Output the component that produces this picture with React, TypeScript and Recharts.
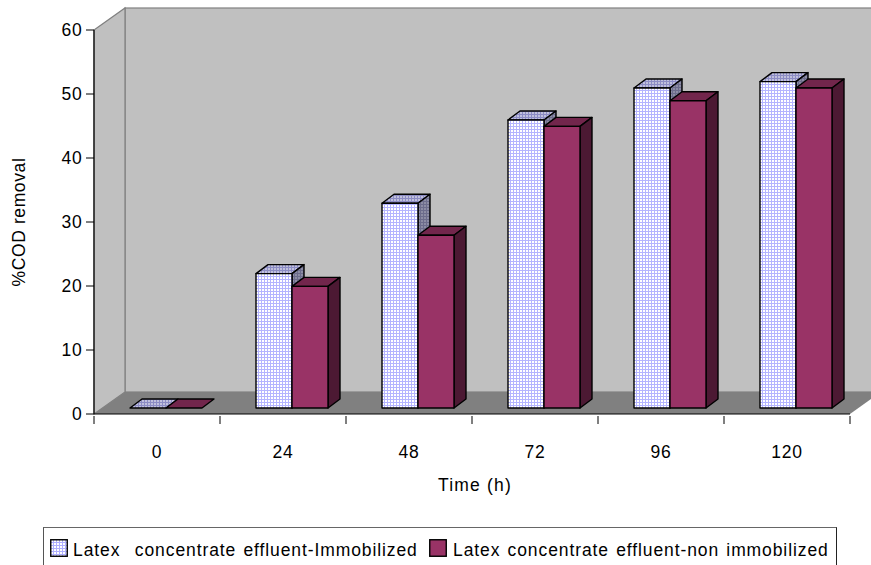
import React from "react";
import { BarChart, Bar, XAxis, YAxis, ReferenceArea, Legend } from "recharts";

const hours = ["0", "24", "48", "72", "96", "120"];
const immobilized = [0, 21, 32, 45, 50, 51];
const nonImmobilized = [0, 19, 27, 44, 48, 50];
const yTicks = [0, 10, 20, 30, 40, 50, 60];
const seriesNames = [
  "Latex  concentrate effluent-Immobilized",
  "Latex concentrate effluent-non immobilized",
];

const rows = hours.map((h, i) => ({
  hour: h,
  immobilized: immobilized[i],
  nonImmobilized: nonImmobilized[i],
}));

const FONT = "'Liberation Sans', Arial, sans-serif";
const WALL_DX = 31;
const WALL_DY = 22;
const BAR_DX = 12;
const BAR_DY = 9;
const BAR_SHIFT_X = 9;
const BAR_SHIFT_Y = -6;
const BAND = 126;

function Gridded({ id, bg, line }: { id: string; bg: string; line: string }) {
  return (
    <pattern id={id} width="3" height="3" patternUnits="userSpaceOnUse">
      <rect width="3" height="3" fill={bg} />
      <path d="M0 0.5H3M0.5 0V3" stroke={line} strokeWidth="1" />
    </pattern>
  );
}

// Room behind the bars: side wall, back wall and floor in oblique projection.
function Room({ x, y, width, height }: any) {
  const b = y + height;
  const r = x + width;
  return (
    <g>
      <rect x={x + WALL_DX} y={y - WALL_DY} width={width} height={height} fill="#c0c0c0" stroke="#808080" strokeWidth={1.2} />
      <polygon points={`${x},${y} ${x + WALL_DX},${y - WALL_DY} ${x + WALL_DX},${b - WALL_DY} ${x},${b}`} fill="#c0c0c0" stroke="#808080" strokeWidth={1.2} />
      <polygon points={`${x},${b} ${x + WALL_DX},${b - WALL_DY} ${r + WALL_DX},${b - WALL_DY} ${r},${b}`} fill="#808080" />
    </g>
  );
}

function Box3D({ x, y, width, height, front, top, side }: any) {
  const l = x + BAR_SHIFT_X;
  const t = y + BAR_SHIFT_Y;
  const r = l + width;
  const b = t + height;
  const edge = { stroke: "#000", strokeWidth: 1.4, strokeLinejoin: "round" as const };
  return (
    <g>
      <polygon points={`${l},${t} ${l + BAR_DX},${t - BAR_DY} ${r + BAR_DX},${t - BAR_DY} ${r},${t}`} fill={top} {...edge} />
      {height > 0 && <polygon points={`${r},${t} ${r + BAR_DX},${t - BAR_DY} ${r + BAR_DX},${b - BAR_DY} ${r},${b}`} fill={side} {...edge} />}
      {height > 0 && <rect x={l} y={t} width={width} height={height} fill={front} {...edge} />}
    </g>
  );
}

const ImmobilizedBar = (p: any) => <Box3D {...p} front="url(#gridFront)" top="url(#gridTop)" side="url(#gridSide)" />;
const PlainBar = (p: any) => <Box3D {...p} front="#993366" top="#72264c" side="#4c1933" />;

// Tick marks sit on the category boundaries, labels in the middle of each band.
function HourTick({ x, y, payload, index }: any) {
  const last = index === hours.length - 1;
  return (
    <g>
      <line x1={x - BAND / 2} x2={x - BAND / 2} y1={y - 8} y2={y} stroke="#000" />
      {last && <line x1={x + BAND / 2} x2={x + BAND / 2} y1={y - 8} y2={y} stroke="#000" />}
      <text x={x} y={y + 34} textAnchor="middle" fontFamily={FONT} fontSize={17.5} letterSpacing={0.8} fill="#000">
        {payload.value}
      </text>
    </g>
  );
}

function Swatch({ fill, left }: { fill: string; left: number }) {
  return (
    <svg width={18} height={18} style={{ position: "absolute", left, top: 11 }}>
      <defs>
        <Gridded id="gridSwatch" bg="#fff" line="#b0b0ff" />
      </defs>
      <rect x={0.75} y={0.75} width={16.5} height={16.5} fill={fill} stroke="#000" strokeWidth={1.4} />
    </svg>
  );
}

function LegendBox() {
  const label = { position: "absolute" as const, top: 12.5, lineHeight: "19px", fontFamily: FONT, fontSize: 17.5, letterSpacing: 0.9, wordSpacing: 1.5, color: "#000", whiteSpace: "pre" as const };
  return (
    <div style={{ position: "relative", height: 38, boxSizing: "border-box", borderTop: "1.5px solid #666", borderLeft: "1px solid #555", borderRight: "1px solid #222", overflow: "hidden" }}>
      <Swatch fill="url(#gridSwatch)" left={6} />
      <span style={{ ...label, left: 29 }}>{seriesNames[0]}</span>
      <Swatch fill="#993366" left={385} />
      <span style={{ ...label, left: 409 }}>{seriesNames[1]}</span>
    </div>
  );
}

export default function App() {
  return (
    <div style={{ position: "absolute", left: 0, top: 0, width: 871, height: 565, overflow: "hidden", background: "#fff" }}>
      <BarChart
        width={871}
        height={565}
        data={rows}
        margin={{ top: 30, right: 21, bottom: 0, left: 0 }}
        barCategoryGap={27}
        barGap={0}
      >
        <defs>
          <Gridded id="gridFront" bg="#fff" line="#b4b4ff" />
          <Gridded id="gridTop" bg="#c0c0dc" line="#8c8cc4" />
          <Gridded id="gridSide" bg="#8c8ca4" line="#6c6c8c" />
        </defs>
        <ReferenceArea y1={0} y2={60} ifOverflow="visible" shape={<Room />} />
        <XAxis
          dataKey="hour"
          height={151}
          axisLine={{ stroke: "#000", strokeWidth: 1.2 }}
          tickLine={false}
          tick={<HourTick />}
          interval={0}
          tickSize={8}
          label={{ value: "Time (h)", position: "insideTop", offset: 65, dx: 3, fontFamily: FONT, fontSize: 17.5, letterSpacing: 1.2, fill: "#000" }}
        />
        <YAxis
          domain={[0, 60]}
          ticks={yTicks}
          width={94}
          tickSize={8}
          tickMargin={3.5}
          axisLine={{ stroke: "#000", strokeWidth: 1.2 }}
          tickLine={{ stroke: "#000" }}
          tick={{ fontFamily: FONT, fontSize: 17.5, letterSpacing: 0.8, fill: "#000" }}
          label={{ value: "%COD removal", angle: -90, position: "insideLeft", offset: 19, textAnchor: "middle", fontFamily: FONT, fontSize: 17.5, letterSpacing: 0.6, fill: "#000" }}
        />
        <Bar dataKey="immobilized" barSize={36} shape={ImmobilizedBar} isAnimationActive={false} />
        <Bar dataKey="nonImmobilized" barSize={36} shape={PlainBar} isAnimationActive={false} />
        <Legend
          layout="horizontal"
          verticalAlign="middle"
          content={<LegendBox />}
          wrapperStyle={{ left: 43, top: 527, width: 794, height: 38, bottom: "auto" }}
        />
      </BarChart>
    </div>
  );
}
